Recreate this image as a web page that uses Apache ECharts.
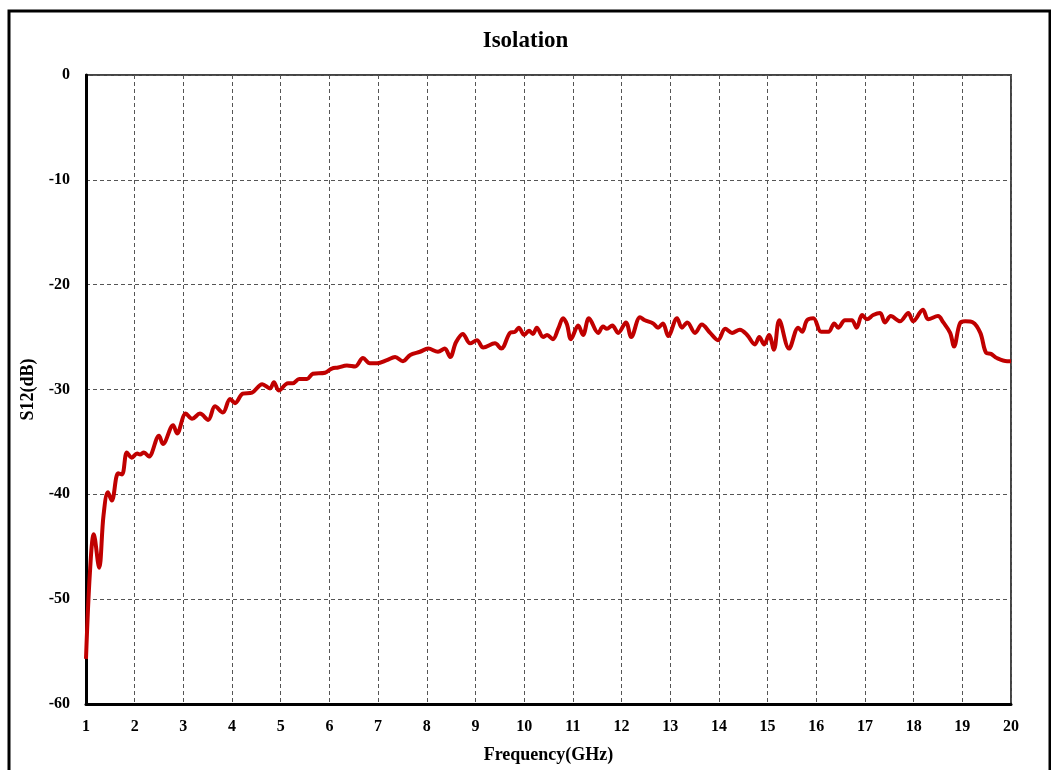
<!DOCTYPE html>
<html>
<head>
<meta charset="utf-8">
<script src="https://cdn.jsdelivr.net/npm/echarts@6/dist/echarts.min.js"></script>
<style>
html,body{margin:0;padding:0;background:#fff;}
#chart{width:1051px;height:770px;}
</style>
</head>
<body>
<div id="chart"></div>
<script>
const title = "Isolation";
const xName = "Frequency(GHz)";
const yName = "S12(dB)";
const xTicks = [1,2,3,4,5,6,7,8,9,10,11,12,13,14,15,16,17,18,19,20];
const yTicks = [-60,-50,-40,-30,-20,-10,0];

const freq = [1.0,1.08,1.16,1.27,1.36,1.45,1.53,1.66,1.74,1.84,1.94,2.05,2.11,2.19,2.29,2.5,2.58,2.79,2.87,3.05,3.18,3.34,3.51,3.65,3.81,3.96,4.06,4.22,4.41,4.62,4.78,4.86,4.96,5.15,5.25,5.38,5.54,5.66,5.91,6.05,6.18,6.36,6.53,6.69,6.83,6.98,7.18,7.35,7.51,7.66,7.86,8.03,8.23,8.37,8.48,8.6,8.74,8.89,9.03,9.16,9.4,9.53,9.71,9.81,9.89,10.0,10.1,10.18,10.26,10.39,10.47,10.59,10.7,10.8,10.88,10.96,11.11,11.21,11.33,11.52,11.62,11.7,11.81,11.93,12.09,12.2,12.38,12.48,12.65,12.75,12.85,12.96,13.14,13.24,13.35,13.51,13.65,13.82,13.98,14.13,14.27,14.43,14.58,14.74,14.83,14.93,15.03,15.13,15.24,15.44,15.63,15.71,15.81,15.94,16.1,16.25,16.37,16.45,16.59,16.73,16.83,16.94,17.04,17.17,17.31,17.41,17.53,17.72,17.89,17.99,18.19,18.3,18.5,18.61,18.75,18.83,18.95,19.06,19.22,19.37,19.49,19.59,19.71,19.92,20.0];
const s12 = [-55.7,-47.5,-43.8,-47.0,-42.0,-39.8,-40.6,-38.0,-38.1,-36.0,-36.5,-36.1,-36.2,-36.0,-36.4,-34.4,-35.2,-33.4,-34.2,-32.3,-32.8,-32.3,-32.9,-31.6,-32.2,-30.9,-31.3,-30.4,-30.3,-29.5,-29.9,-29.3,-30.1,-29.4,-29.4,-29.0,-29.0,-28.5,-28.4,-28.0,-27.9,-27.7,-27.8,-27.0,-27.5,-27.5,-27.2,-26.9,-27.3,-26.7,-26.4,-26.1,-26.4,-26.1,-26.9,-25.5,-24.7,-25.6,-25.3,-26.0,-25.6,-26.1,-24.6,-24.5,-24.1,-24.8,-24.4,-24.7,-24.1,-25.0,-24.8,-25.2,-24.2,-23.2,-23.8,-25.2,-23.9,-24.8,-23.2,-24.6,-24.0,-24.2,-23.9,-24.6,-23.6,-25.0,-23.1,-23.4,-23.7,-24.1,-23.7,-24.9,-23.2,-24.1,-23.6,-24.6,-23.8,-24.6,-25.3,-24.2,-24.6,-24.3,-24.8,-25.7,-25.0,-25.7,-24.8,-26.2,-23.4,-26.1,-24.1,-24.5,-23.4,-23.2,-24.5,-24.5,-23.7,-24.1,-23.4,-23.4,-24.1,-22.9,-23.3,-22.9,-22.7,-23.6,-23.0,-23.5,-22.7,-23.5,-22.4,-23.3,-23.0,-23.6,-24.6,-25.9,-23.7,-23.5,-23.6,-24.6,-26.5,-26.6,-27.0,-27.3,-27.3];

const data = freq.map((f,i)=>[f,s12[i]]);
const font = "'Liberation Serif','Times New Roman',serif";
const chart = echarts.init(document.getElementById('chart'));
chart.setOption({
  backgroundColor:'#fff',
  animation:false,
  graphic:[{type:'rect',shape:{x:9,y:11,width:1041,height:800},style:{fill:'none',stroke:'#000',lineWidth:3},z:-1}],
  title:{text:title,left:'center',top:25,textStyle:{fontFamily:font,fontWeight:'bold',fontSize:23,color:'#000'}},
  grid:{left:86,top:75,right:40,bottom:66,show:true,borderColor:'#444',borderWidth:2},
  xAxis:{type:'value',min:1,max:20,interval:1,
    name:xName,nameLocation:'middle',nameGap:42,
    nameTextStyle:{fontFamily:font,fontWeight:'bold',fontSize:18,color:'#000'},
    axisLine:{show:true,onZero:false,lineStyle:{color:'#000',width:3}},
    axisTick:{show:false},
    axisLabel:{fontFamily:font,fontWeight:'bold',fontSize:16,color:'#000',margin:15,
      formatter:v=>xTicks.includes(v)?String(v):''},
    splitLine:{show:true,lineStyle:{color:'#555',type:[4,3],width:1}}},
  yAxis:{type:'value',min:-60,max:0,interval:10,
    name:yName,nameLocation:'middle',nameGap:48,
    nameTextStyle:{fontFamily:font,fontWeight:'bold',fontSize:18,color:'#000'},
    axisLine:{show:true,onZero:false,lineStyle:{color:'#000',width:3}},
    axisTick:{show:false},
    axisLabel:{fontFamily:font,fontWeight:'bold',fontSize:16,color:'#000',margin:16,
      formatter:v=>yTicks.includes(v)?String(v):''},
    splitLine:{show:true,lineStyle:{color:'#555',type:[4,3],width:1}}},
  series:[{type:'line',data:data,smooth:0.35,showSymbol:false,clip:true,
    lineStyle:{color:'#C00000',width:4}}]
});
</script>
</body>
</html>
